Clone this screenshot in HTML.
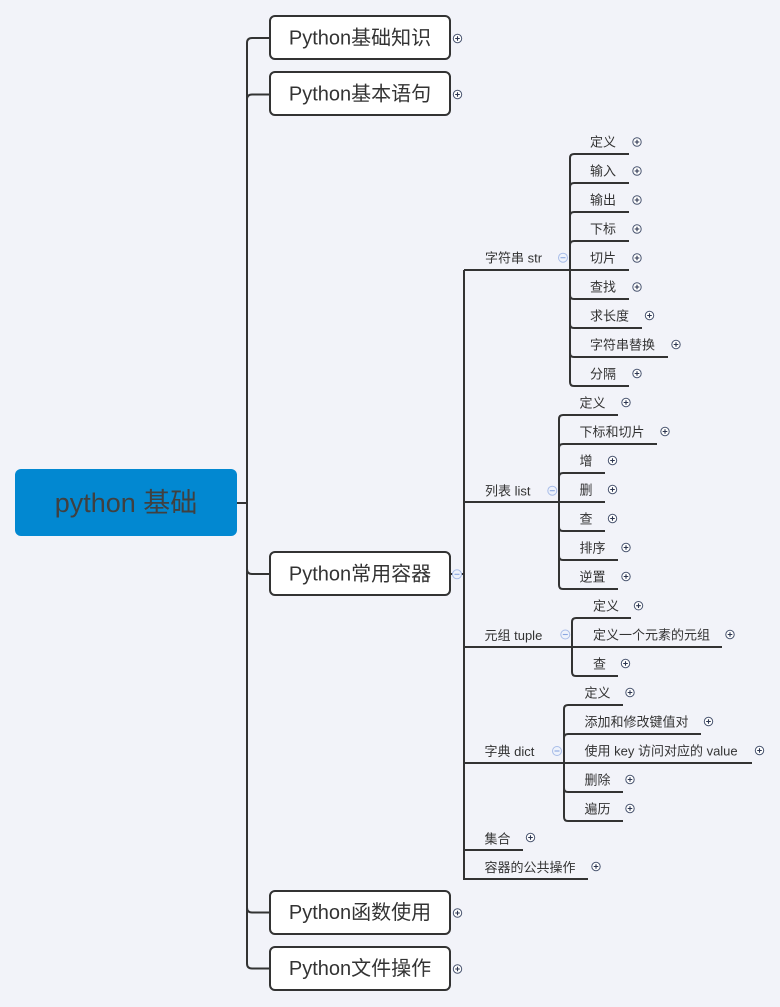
<!DOCTYPE html>
<html><head><meta charset="utf-8"><style>
html,body{margin:0;padding:0;background:#f2f3f9;}
svg{display:block;}
text{font-family:"Liberation Sans","Noto Sans CJK SC",sans-serif;fill:#333;}
.l3{font-size:13px;}
.l2{font-size:13px;}
.l1{font-size:20px;}
</style></head><body>
<svg width="780" height="1007" viewBox="0 0 780 1007" xmlns="http://www.w3.org/2000/svg">
<defs>
<g id="plus"><circle cx="0" cy="0" r="4.2" fill="#fff" stroke="#4a5570" stroke-width="1"/><path d="M-2.3 0H2.3M0 -2.3V2.3" stroke="#2c3550" stroke-width="1.1"/></g>
<g id="minus"><circle cx="0" cy="0" r="4.5" fill="#eef2fb" stroke="#a9bde8" stroke-width="1"/><path d="M-2.5 0H2.5" stroke="#8aa6e0" stroke-width="1.1"/></g>
</defs>
<rect width="780" height="1007" fill="#f2f3f9"/>

<!-- main connectors -->
<g fill="none" stroke="#333" stroke-width="2">
<path d="M237 503H247V43Q247 38 252 38H270"/>
<path d="M247 503V99.5Q247 94.5 252 94.5H270"/>
<path d="M247 503V569Q247 574 252 574H270"/>
<path d="M247 503V907.5Q247 912.5 252 912.5H270"/>
<path d="M247 503V963.5Q247 968.5 252 968.5H270"/>

<!-- level 2 -->
<path d="M450 574H464"/>
<path d="M464 270V879"/>
<path d="M464 270H570"/>
<path d="M464 502H559"/>
<path d="M464 647H572"/>
<path d="M464 763H564"/>
<path d="M464 850H523"/>
<path d="M463 879H588"/>

<!-- str children x=570 -->
<path d="M570 270V158Q570 154 574 154H629"/>
<path d="M570 270V187Q570 183 574 183H629"/>
<path d="M570 270V216Q570 212 574 212H629"/>
<path d="M570 270V245Q570 241 574 241H629"/>
<path d="M570 270H629"/>
<path d="M570 270V295Q570 299 574 299H629"/>
<path d="M570 270V324Q570 328 574 328H642"/>
<path d="M570 270V353Q570 357 574 357H668"/>
<path d="M570 270V382Q570 386 574 386H629"/>

<!-- list children x=559 -->
<path d="M559 502V419Q559 415 563 415H618"/>
<path d="M559 502V448Q559 444 563 444H657"/>
<path d="M559 502V477Q559 473 563 473H605"/>
<path d="M559 502H605"/>
<path d="M559 502V527Q559 531 563 531H605"/>
<path d="M559 502V556Q559 560 563 560H618"/>
<path d="M559 502V585Q559 589 563 589H618"/>

<!-- tuple children x=572 -->
<path d="M572 647V622Q572 618 576 618H631"/>
<path d="M572 647H722"/>
<path d="M572 647V672Q572 676 576 676H618"/>

<!-- dict children x=564 -->
<path d="M564 763V709Q564 705 568 705H623"/>
<path d="M564 763V738Q564 734 568 734H701"/>
<path d="M564 763H752"/>
<path d="M564 763V788Q564 792 568 792H623"/>
<path d="M564 763V817Q564 821 568 821H623"/>
</g>

<!-- root -->
<rect x="15" y="469" width="222" height="67" rx="6" fill="#0288d1"/>
<text x="126" y="503" text-anchor="middle" dominant-baseline="central" style="font-size:27px;fill:#404040">python 基础</text>

<!-- main boxes -->
<g fill="#fff" stroke="#333" stroke-width="2">
<rect x="270" y="16" width="180" height="43" rx="5"/>
<rect x="270" y="72" width="180" height="43" rx="5"/>
<rect x="270" y="552" width="180" height="43" rx="5"/>
<rect x="270" y="891" width="180" height="43" rx="5"/>
<rect x="270" y="947" width="180" height="43" rx="5"/>
</g>
<g class="l1" text-anchor="middle" dominant-baseline="central">
<text x="360" y="38.5" class="l1" text-anchor="middle" dominant-baseline="central">Python基础知识</text>
<text x="360" y="94.5" class="l1" text-anchor="middle" dominant-baseline="central">Python基本语句</text>
<text x="360" y="574.5" class="l1" text-anchor="middle" dominant-baseline="central">Python常用容器</text>
<text x="360" y="913" class="l1" text-anchor="middle" dominant-baseline="central">Python函数使用</text>
<text x="360" y="969" class="l1" text-anchor="middle" dominant-baseline="central">Python文件操作</text>
</g>
<use href="#plus" x="457.5" y="38.5"/>
<use href="#plus" x="457.5" y="94.5"/>
<use href="#minus" x="457" y="574.3"/>
<use href="#plus" x="457.5" y="913"/>
<use href="#plus" x="457.5" y="969"/>

<!-- level 2 labels -->
<text x="485" y="258" class="l2" dominant-baseline="central">字符串 str</text>
<use href="#minus" x="563" y="257.7"/>
<text x="485" y="491" class="l2" dominant-baseline="central">列表 list</text>
<use href="#minus" x="552.3" y="490.7"/>
<text x="484.5" y="635.5" class="l2" dominant-baseline="central">元组 tuple</text>
<use href="#minus" x="565.3" y="634.5"/>
<text x="484.5" y="751.5" class="l2" dominant-baseline="central">字典 dict</text>
<use href="#minus" x="557" y="751"/>
<text x="484.5" y="839" class="l2" dominant-baseline="central">集合</text>
<use href="#plus" x="530.5" y="837.5"/>
<text x="484.5" y="867.5" class="l2" dominant-baseline="central">容器的公共操作</text>
<use href="#plus" x="596" y="866.5"/>

<!-- str children -->
<text x="590" y="142" class="l3" dominant-baseline="central">定义</text><use href="#plus" x="637" y="142"/>
<text x="590" y="171" class="l3" dominant-baseline="central">输入</text><use href="#plus" x="637" y="171"/>
<text x="590" y="200" class="l3" dominant-baseline="central">输出</text><use href="#plus" x="637" y="200"/>
<text x="590" y="229" class="l3" dominant-baseline="central">下标</text><use href="#plus" x="637" y="229"/>
<text x="590" y="258" class="l3" dominant-baseline="central">切片</text><use href="#plus" x="637" y="258"/>
<text x="590" y="287" class="l3" dominant-baseline="central">查找</text><use href="#plus" x="637" y="287"/>
<text x="590" y="316" class="l3" dominant-baseline="central">求长度</text><use href="#plus" x="649.5" y="315.5"/>
<text x="590" y="345" class="l3" dominant-baseline="central">字符串替换</text><use href="#plus" x="676" y="344.5"/>
<text x="590" y="374" class="l3" dominant-baseline="central">分隔</text><use href="#plus" x="637" y="373.5"/>

<!-- list children -->
<text x="579.5" y="403" class="l3" dominant-baseline="central">定义</text><use href="#plus" x="626" y="402.5"/>
<text x="579.5" y="432" class="l3" dominant-baseline="central">下标和切片</text><use href="#plus" x="665" y="431.5"/>
<text x="579.5" y="461" class="l3" dominant-baseline="central">增</text><use href="#plus" x="612.5" y="460.5"/>
<text x="579.5" y="490" class="l3" dominant-baseline="central">删</text><use href="#plus" x="612.5" y="489.5"/>
<text x="579.5" y="519" class="l3" dominant-baseline="central">查</text><use href="#plus" x="612.5" y="518.5"/>
<text x="579.5" y="548" class="l3" dominant-baseline="central">排序</text><use href="#plus" x="626" y="547.5"/>
<text x="579.5" y="577" class="l3" dominant-baseline="central">逆置</text><use href="#plus" x="626" y="576.5"/>

<!-- tuple children -->
<text x="593" y="606" class="l3" dominant-baseline="central">定义</text><use href="#plus" x="638.5" y="605.7"/>
<text x="593" y="635" class="l3" dominant-baseline="central">定义一个元素的元组</text><use href="#plus" x="730" y="634.5"/>
<text x="593" y="664" class="l3" dominant-baseline="central">查</text><use href="#plus" x="625.5" y="663.5"/>

<!-- dict children -->
<text x="584.5" y="693" class="l3" dominant-baseline="central">定义</text><use href="#plus" x="630" y="692.5"/>
<text x="584.5" y="722" class="l3" dominant-baseline="central">添加和修改键值对</text><use href="#plus" x="708.5" y="721.5"/>
<text x="584.5" y="751" class="l3" dominant-baseline="central">使用 key 访问对应的 value</text><use href="#plus" x="759.5" y="750.5"/>
<text x="584.5" y="780" class="l3" dominant-baseline="central">删除</text><use href="#plus" x="630" y="779.5"/>
<text x="584.5" y="809" class="l3" dominant-baseline="central">遍历</text><use href="#plus" x="630" y="808.5"/>
</svg>
</body></html>
